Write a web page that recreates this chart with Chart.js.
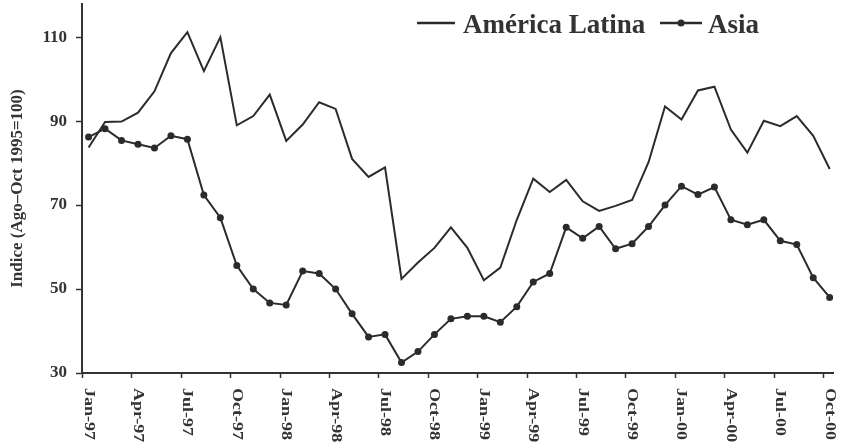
<!DOCTYPE html>
<html>
<head>
<meta charset="utf-8">
<script src="https://cdn.jsdelivr.net/npm/chart.js@4.4.1/dist/chart.umd.min.js"></script>
<style>
  html, body { margin: 0; padding: 0; background: #fff; }
  #wrap { width: 841px; height: 443px; }
</style>
</head>
<body>
<div id="wrap"><canvas id="indiceChart"></canvas></div>
<script>
// meses de ene-97 a oct-00
var meses = [
  'Jan-97', 'Feb-97', 'Mar-97', 'Apr-97', 'May-97', 'Jun-97', 'Jul-97', 'Aug-97', 'Sep-97', 'Oct-97', 'Nov-97', 'Dec-97',
  'Jan-98', 'Feb-98', 'Mar-98', 'Apr-98', 'May-98', 'Jun-98', 'Jul-98', 'Aug-98', 'Sep-98', 'Oct-98', 'Nov-98', 'Dec-98',
  'Jan-99', 'Feb-99', 'Mar-99', 'Apr-99', 'May-99', 'Jun-99', 'Jul-99', 'Aug-99', 'Sep-99', 'Oct-99', 'Nov-99', 'Dec-99',
  'Jan-00', 'Feb-00', 'Mar-00', 'Apr-00', 'May-00', 'Jun-00', 'Jul-00', 'Aug-00', 'Sep-00', 'Oct-00'
];
var latam = [
  83.7, 89.8, 89.9, 92.0, 97.1, 106.2, 111.2, 101.9, 110.0, 89.0, 91.2, 96.3,
  85.3, 89.2, 94.5, 92.9, 81.0, 76.7, 79.0, 52.4, 56.3, 59.8, 64.7, 59.8,
  52.1, 55.1, 66.5, 76.3, 73.1, 76.0, 70.9, 68.6, 69.8, 71.2, 80.2, 93.5,
  90.4, 97.3, 98.2, 88.0, 82.5, 90.1, 88.8, 91.2, 86.5, 78.6
];
var asia = [
  86.2, 88.2, 85.4, 84.5, 83.6, 86.5, 85.7, 72.4, 67.0, 55.6, 50.0, 46.7,
  46.2, 54.3, 53.7, 50.0, 44.1, 38.6, 39.2, 32.5, 35.1, 39.2, 42.9, 43.5,
  43.5, 42.1, 45.8, 51.7, 53.7, 64.7, 62.1, 64.9, 59.6, 60.8, 64.9, 70.0,
  74.5, 72.5, 74.3, 66.5, 65.3, 66.5, 61.5, 60.6, 52.7, 48.0
];
var trimestres = [0, 3, 6, 9, 12, 15, 18, 21, 24, 27, 30, 33, 36, 39, 42, 45];
var yTicks = [30, 50, 70, 90, 110];

var tinta = '#2b2b2b';
var serif = '"Liberation Serif", "Times New Roman", serif';

function puntos(serie) {
  return serie.map(function(v, i) { return { x: i, y: v }; });
}

// etiquetas del eje x (giradas hacia abajo) y leyenda
var extras = {
  id: 'extras',
  afterDraw: function(chart) {
    var c = chart.ctx, xs = chart.scales.x, area = chart.chartArea;
    c.save();
    c.fillStyle = '#333';
    c.font = 'bold 15px ' + serif;
    c.textAlign = 'left';
    c.textBaseline = 'alphabetic';
    trimestres.forEach(function(i) {
      c.save();
      c.translate(xs.getPixelForValue(i) - 4, area.bottom + 15);
      c.rotate(Math.PI / 2);
      c.scale(1.2, 1);
      c.fillText(meses[i], 0, 0);
      c.restore();
    });

    c.font = 'bold 27px ' + serif;
    c.strokeStyle = tinta;
    c.lineWidth = 2.5;
    c.beginPath();
    c.moveTo(417, 23); c.lineTo(455, 23);
    c.moveTo(660, 23); c.lineTo(702, 23);
    c.stroke();
    c.fillStyle = tinta;
    c.beginPath();
    c.arc(681, 23, 3.5, 0, Math.PI * 2);
    c.fill();
    c.fillStyle = '#333';
    c.fillText('América Latina', 463, 33);
    c.fillText('Asia', 708, 33);
    c.restore();
  }
};

var ctx = document.getElementById('indiceChart').getContext('2d');
var indiceChart = new Chart(ctx, {
  type: 'line',
  data: {
    datasets: [{
      label: 'América Latina',
      data: puntos(latam),
      borderColor: tinta,
      borderWidth: 2,
      pointRadius: 0,
      tension: 0
    }, {
      label: 'Asia',
      data: puntos(asia),
      borderColor: tinta,
      borderWidth: 2,
      pointRadius: 3.5,
      pointBackgroundColor: tinta,
      pointBorderWidth: 0,
      tension: 0
    }]
  },
  options: {
    responsive: true,
    maintainAspectRatio: false,
    animation: false,
    layout: { padding: { left: 0, right: 8, top: 0, bottom: 0 } },
    plugins: {
      legend: { display: false },
      tooltip: { enabled: false }
    },
    scales: {
      x: {
        type: 'linear',
        min: -0.4,
        max: 45.2,
        afterBuildTicks: function(s) {
          s.ticks = trimestres.map(function(i) { return { value: i - 0.37 }; });
        },
        afterFit: function(s) { s.height = 70; },
        ticks: { display: false },
        grid: { drawOnChartArea: false, tickLength: 5, tickWidth: 1.5, tickColor: '#333' },
        border: { color: '#333', width: 2 }
      },
      y: {
        min: 30,
        max: 117.9,
        afterBuildTicks: function(s) {
          s.ticks = yTicks.map(function(v) { return { value: v }; });
        },
        afterFit: function(s) {
          s.width = 82;
          s.paddingTop = 0;
          s.paddingBottom = 0;
        },
        ticks: {
          color: '#333',
          padding: 9,
          font: { family: serif, weight: 'bold', size: 17 }
        },
        grid: { drawOnChartArea: false, tickLength: 6, tickWidth: 1.5, tickColor: '#333' },
        border: { color: '#333', width: 2 },
        title: {
          display: true,
          text: 'Indice (Ago–Oct 1995=100)',
          color: '#333',
          padding: { top: 7, bottom: 0 },
          font: { family: serif, weight: 'bold', size: 17 }
        }
      }
    }
  },
  plugins: [extras]
});
</script>
</body>
</html>
